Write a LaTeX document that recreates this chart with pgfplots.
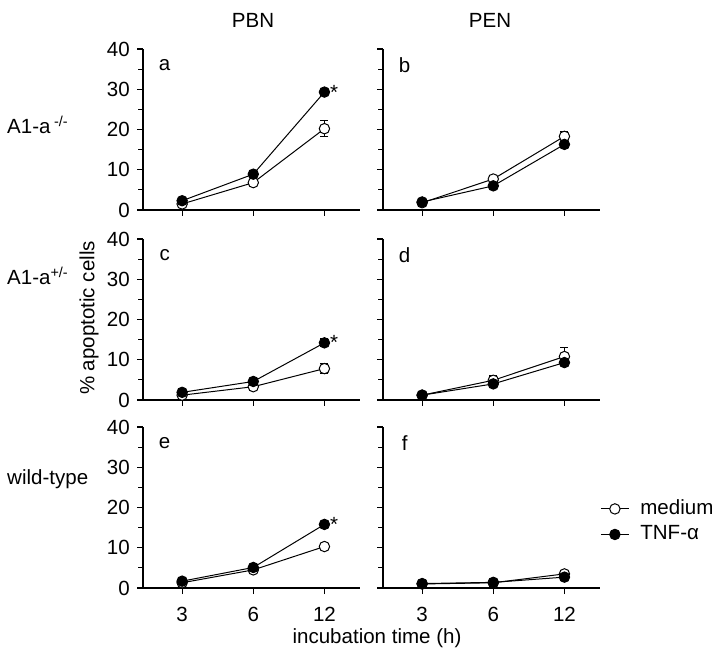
\documentclass[border=0pt]{standalone}
\usepackage{fontspec}
\setmainfont{Liberation Sans}
\usepackage{pgfplots}
\pgfplotsset{compat=1.18}
\pgfplotsset{
 panel/.style={
   scale only axis, width=108.5bp, height=80.5bp,
   anchor=south west,
   xmin=-0.55, xmax=2.5, ymin=0, ymax=40,
   axis x line*=bottom, axis y line*=left,
   axis line style={-, line width=0.65bp},
   xtick={0,1,2}, xticklabels={3,6,12},
   ytick={0,10,20,30,40}, minor y tick num=1,
   tick align=outside, major tick length=3bp, minor tick length=2.5bp,
   tick style={line width=0.6bp, black},
   xticklabel style={yshift=-3bp},
   /pgf/number format/assume math mode=true,
   clip=false,
 },
 noxl/.style={xticklabels={}},
 noyl/.style={yticklabels={}},
 med/.style={black, line width=0.5bp, mark=*, mark size=2.6bp,
   mark options={fill=white, line width=0.5bp},
   error bars/.cd, y dir=both, y explicit,
   error bar style={line width=0.5bp},
   error mark options={rotate=90, mark size=2bp, line width=0.5bp}},
 tnf/.style={black, line width=0.5bp, mark=*, mark size=2.6bp,
   mark options={fill=black, line width=0.5bp},
   error bars/.cd, y dir=both, y explicit,
   error bar style={line width=0.5bp},
   error mark options={rotate=90, mark size=2bp, line width=0.5bp}},
}
\newcommand{\plab}[1]{\node[inner sep=0pt] at (rel axis cs:0.1,0.9) {#1};}
\newcommand{\sig}[1]{\node[anchor=west, inner sep=0pt, xshift=2.6bp] at (axis cs:2,#1) {*};}
\begin{document}
\fontsize{10.3}{12.4}\selectfont
\begin{tikzpicture}
\useasboundingbox (0,0) rectangle (360bp,326.5bp);
% titles and labels
\node at (126.5bp,316.5bp) {PBN};
\node at (245bp,316.5bp) {PEN};
\node[anchor=west] at (0bp,264bp) {A1-a\,\textsuperscript{-/-}};
\node[anchor=west] at (0bp,188.5bp) {A1-a\textsuperscript{+/-}};
\node[anchor=west] at (0bp,87bp) {wild-type};
\node[rotate=90] at (44.5bp,167.5bp) {\% apoptotic cells};
\node at (188.5bp,7.5bp) {incubation time (h)};

% a
\begin{axis}[panel, noxl, at={(71.5bp,221.5bp)}]
\addplot+[med] coordinates {(0,1.5) +- (0,0.5) (1,6.8) +- (0,0.7) (2,20.2) +- (0,2.0)};
\addplot+[tnf] coordinates {(0,2.3) +- (0,0.4) (1,8.9) +- (0,0.6) (2,29.3) +- (0,0.7)};
\plab{a}
\sig{29.3}
\end{axis}
% b
\begin{axis}[panel, noxl, noyl, at={(191.5bp,221.5bp)}]
\addplot+[med] coordinates {(0,1.8) +- (0,0.3) (1,7.7) +- (0,0.8) (2,18.3) +- (0,1.2)};
\addplot+[tnf] coordinates {(0,2.0) +- (0,0.3) (1,6.0) +- (0,0.5) (2,16.3) +- (0,0.6)};
\plab{b}
\end{axis}
% c
\begin{axis}[panel, noxl, at={(71.5bp,126.5bp)}]
\addplot+[med] coordinates {(0,1.2) +- (0,0.3) (1,3.3) +- (0,0.4) (2,7.8) +- (0,1.3)};
\addplot+[tnf] coordinates {(0,1.9) +- (0,0.3) (1,4.6) +- (0,0.4) (2,14.2) +- (0,1.0)};
\plab{c}
\sig{14.2}
\end{axis}
% d
\begin{axis}[panel, noxl, noyl, at={(191.5bp,126.5bp)}]
\addplot+[med] coordinates {(0,1.2) +- (0,0.2) (1,4.9) +- (0,1.3) (2,10.8) +- (0,2.2)};
\addplot+[tnf] coordinates {(0,1.2) +- (0,0.2) (1,4.0) +- (0,0.5) (2,9.3) +- (0,0.6)};
\plab{d}
\end{axis}
% e
\begin{axis}[panel, at={(71.5bp,32.5bp)}]
\addplot+[med] coordinates {(0,1.3) +- (0,0.3) (1,4.5) +- (0,0.4) (2,10.3) +- (0,0.6)};
\addplot+[tnf] coordinates {(0,1.7) +- (0,0.3) (1,5.1) +- (0,0.4) (2,15.8) +- (0,0.6)};
\plab{e}
\sig{15.8}
\end{axis}
% f
\begin{axis}[panel, noyl, at={(191.5bp,32.5bp)},
  legend style={draw=none, fill=none, at={(axis description cs:1.0,0.413)}, anchor=west, inner sep=0pt, legend cell align=left},
  legend image code/.code={\draw[#1,mark repeat=2,mark phase=2] plot coordinates {(0bp,0bp) (7bp,0bp) (14bp,0bp)}; \path (17.5bp,0bp);}]
\addplot+[med] coordinates {(0,1.0) +- (0,0.2) (1,1.3) +- (0,0.3) (2,3.5) +- (0,0.5)};
\addplot+[tnf] coordinates {(0,1.1) +- (0,0.2) (1,1.4) +- (0,0.2) (2,2.7) +- (0,0.5)};
\legend{medium, TNF-α}
\plab{f}
\end{axis}
\end{tikzpicture}
\end{document}
